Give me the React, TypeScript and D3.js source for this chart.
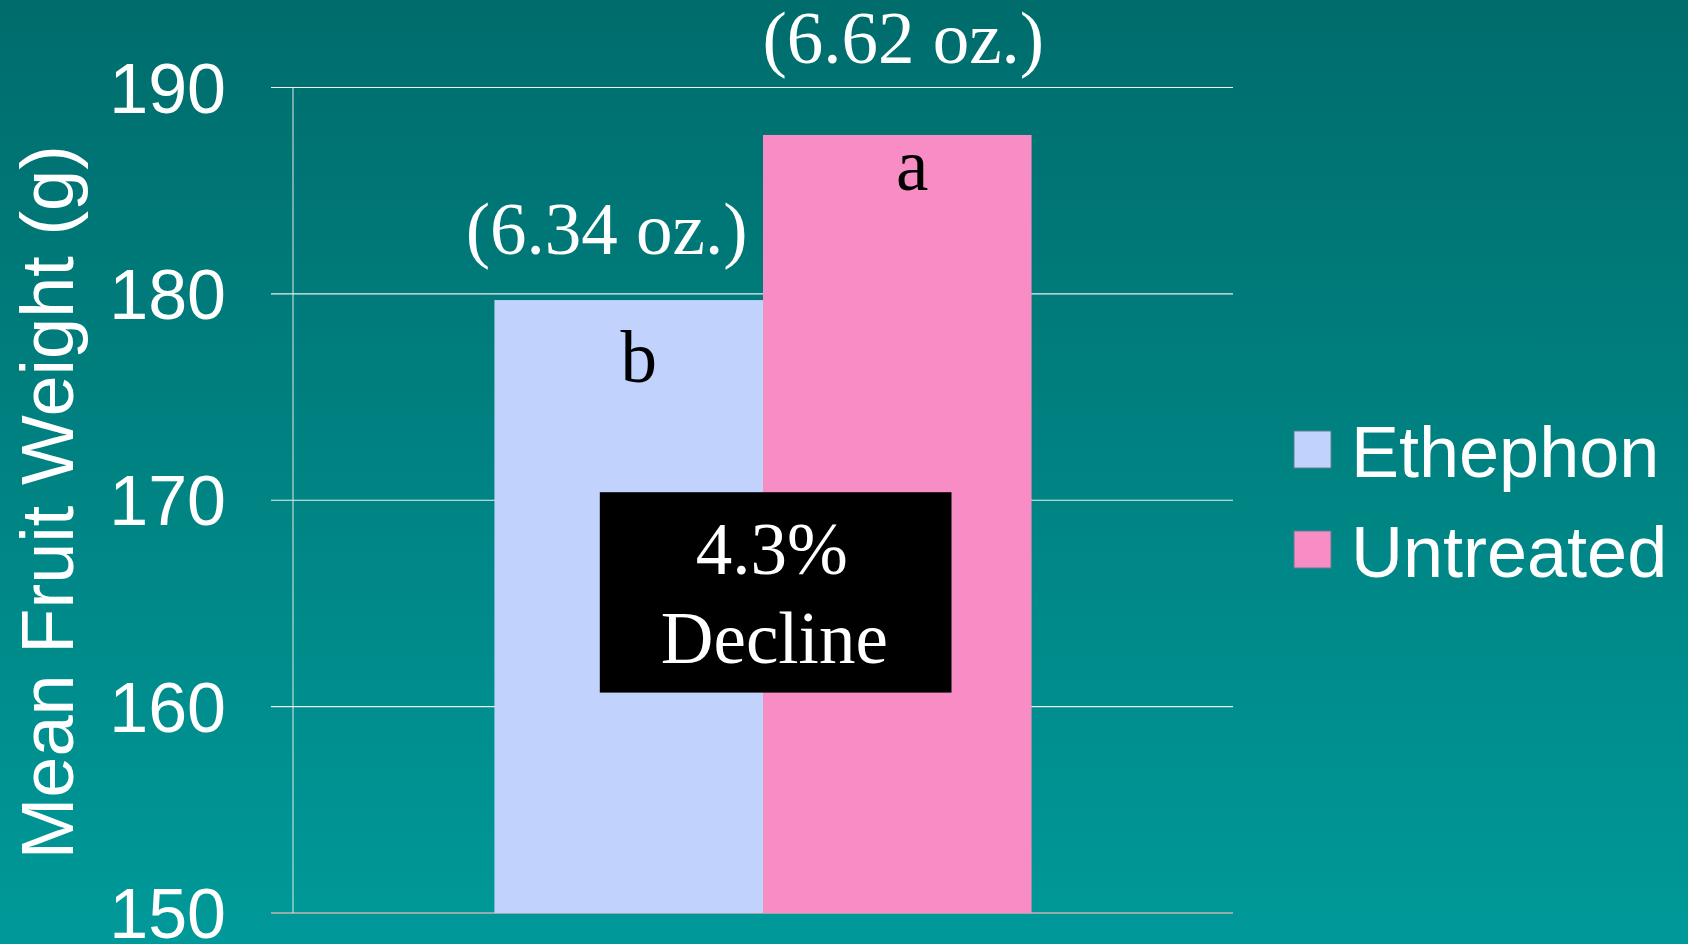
import React from "react";
import * as d3 from "d3";

// ---- data ----
const groups = ["All"];
const series = ["Ethephon", "Untreated"];
const seriesValues = [179.7, 187.7]; // mean fruit weight (g)
const seriesColors = ["#C1D3FC", "#F88CC4"];
const yTicks = [150, 160, 170, 180, 190];
const ozLabels = ["(6.34 oz.)", "(6.62 oz.)"];
const ozLabelY = [181.93, 191.2];
const ozLabelDx = [-22, 6];
const letterLabels = ["b", "a"];
const letterY = [175.75, 185.03];
const letterDx = [10, 15];
const boxLines = ["4.3%", "Decline"];
const boxLineY = [166.43, 162.12];
const boxLineDx = [8.8, 11.3];
const boxRange = [170.39, 160.68];
const boxXOffsets = [-163.2, 188.5];

const W = 1688;
const H = 944;
const SANS = "'Liberation Sans', Arial, sans-serif";
const SERIF = "'Liberation Serif', 'Times New Roman', serif";

export default function App() {
  const plotLeft = 293;
  const plotRight = 1233;
  const y = d3.scaleLinear().domain([150, 190]).range([913, 87.5]);
  const x0 = d3.scaleBand<string>().domain(groups).range([plotLeft, plotRight]).paddingInner(0).paddingOuter(0.375);
  const x1 = d3.scaleBand<string>().domain(series).range([0, x0.bandwidth()]).padding(0);
  const gx = x0(groups[0]) as number;
  const groupCenter = gx + x0.bandwidth() / 2;
  const barCenter = (i: number) => gx + (x1(series[i]) as number) + x1.bandwidth() / 2;

  return (
    <svg width={W} height={H} style={{ position: "absolute", left: 0, top: 0, display: "block" }}>
      <defs>
        <linearGradient id="bg" x1="0" y1="0" x2="0" y2="1">
          <stop offset="0" stopColor="#006C6C" />
          <stop offset="1" stopColor="#009999" />
        </linearGradient>
      </defs>
      <rect x={0} y={0} width={W} height={H} fill="url(#bg)" />

      {/* gridlines */}
      {yTicks.map((t) => (
        <line
          key={"g" + t}
          x1={plotLeft - 22}
          x2={plotRight}
          y1={y(t)}
          y2={y(t)}
          stroke={t === 150 ? "#9aa9a9" : "#e8f0f0"}
          strokeWidth={t === 150 ? 2 : 1.2}
        />
      ))}
      {/* vertical axis */}
      <line x1={plotLeft} x2={plotLeft} y1={y(190)} y2={y(150)} stroke="#e0ecec" strokeWidth={1} />

      {/* bars */}
      {series.map((s, i) => (
        <rect
          key={s}
          x={gx + (x1(s) as number)}
          y={y(seriesValues[i])}
          width={x1.bandwidth()}
          height={y(150) - y(seriesValues[i])}
          fill={seriesColors[i]}
        />
      ))}

      {/* y tick labels */}
      {yTicks.map((t) => (
        <text
          key={"t" + t}
          x={226}
          y={y(t) + 25}
          textAnchor="end"
          fill="#ffffff"
          fontFamily={SANS}
          fontSize={70}
        >
          {t}
        </text>
      ))}

      {/* y axis title */}
      <text
        transform={`translate(73,${(y(190) + y(150)) / 2 + 2}) rotate(-90)`}
        textAnchor="middle"
        fill="#ffffff"
        fontFamily={SANS}
        fontSize={74}
      >
        Mean Fruit Weight (g)
      </text>

      {/* oz labels */}
      {ozLabels.map((l, i) => (
        <text
          key={l}
          x={barCenter(i) + ozLabelDx[i]}
          y={y(ozLabelY[i])}
          textAnchor="middle"
          fill="#ffffff"
          fontFamily={SERIF}
          fontSize={73}
        >
          {l}
        </text>
      ))}

      {/* significance letters */}
      {letterLabels.map((l, i) => (
        <text
          key={l}
          x={barCenter(i) + letterDx[i]}
          y={y(letterY[i])}
          textAnchor="middle"
          fill="#000000"
          fontFamily={SERIF}
          fontSize={73}
        >
          {l}
        </text>
      ))}

      {/* decline box */}
      <rect
        x={groupCenter + boxXOffsets[0]}
        y={y(boxRange[0])}
        width={boxXOffsets[1] - boxXOffsets[0]}
        height={y(boxRange[1]) - y(boxRange[0])}
        fill="#000000"
      />
      {boxLines.map((l, i) => (
        <text
          key={l}
          x={groupCenter + boxLineDx[i]}
          y={y(boxLineY[i])}
          textAnchor="middle"
          fill="#ffffff"
          fontFamily={SERIF}
          fontSize={73}
        >
          {l}
        </text>
      ))}

      {/* legend */}
      {series.map((s, i) => (
        <g key={"lg" + s} transform={`translate(1294,${431 + i * 100})`}>
          <rect x={0} y={0} width={37} height={37} fill={seriesColors[i]} stroke="#5f7f8f" strokeWidth={1} />
          <text x={57} y={46} fill="#ffffff" fontFamily={SANS} fontSize={72}>
            {s}
          </text>
        </g>
      ))}
    </svg>
  );
}
